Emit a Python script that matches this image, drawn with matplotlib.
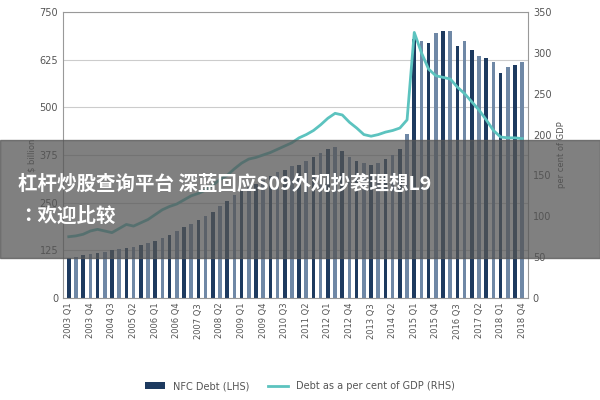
import numpy as np
import matplotlib.pyplot as plt

quarters = [f"{y} Q{q}" for y in range(2003, 2019) for q in range(1, 5)]
nfc_debt = [105, 108, 112, 115, 118, 120, 125, 128, 130, 135, 140, 145,
            150, 158, 165, 175, 185, 195, 205, 215, 225, 240, 255, 270,
            280, 290, 300, 310, 320, 330, 335, 345, 350, 360, 370, 380,
            390, 395, 385, 370, 360, 355, 350, 355, 365, 375, 390, 430,
            680, 675, 670, 695, 700, 700, 660, 675, 650, 635, 630, 620,
            590, 605, 610, 620]
debt_gdp = [75, 76, 78, 82, 84, 82, 80, 85, 90, 88, 92, 96,
            102, 108, 112, 115, 120, 125, 128, 132, 138, 145, 150, 158,
            165, 170, 172, 175, 178, 182, 186, 190, 196, 200, 205, 212,
            220, 226, 224, 215, 208, 200, 198, 200, 203, 205, 208, 218,
            325, 300, 280, 272, 270, 268, 258, 250, 240, 230, 218, 205,
            197, 196, 196, 195]
banner = "杠杆炒股查询平台 深蓝回应S09外观抄袭理想L9\n：欢迎比较"

fig = plt.figure(figsize=(6, 4), dpi=100)
ax = fig.add_axes([0.105, 0.255, 0.775, 0.715])
x = np.arange(len(quarters))
cols = ["#1d3a5f" if i % 2 == 0 else "#6f88a6" for i in x]
ax.bar(x, nfc_debt, width=0.5, color=cols, label="NFC Debt (LHS)", zorder=2)
ax.set_ylim(0, 750)
ax.set_yticks(np.arange(0, 751, 125))
ax.set_xlim(-0.8, len(x) - 0.2)
ax.set_xticks(x[::3])
ax.set_xticklabels(quarters[::3], rotation=90, fontsize=6, color="#555555")
ax.tick_params(axis="y", labelsize=7, colors="#555555", length=0)
ax.tick_params(axis="x", length=0)
ax.set_ylabel("$ billion", fontsize=6, color="#555555", labelpad=2)
ax.grid(axis="y", color="#cccccc", lw=0.8, zorder=0)
for s in ax.spines.values():
    s.set_color("#999999")

ax2 = ax.twinx()
ax2.plot(x, debt_gdp, color="#5cc3bf", lw=2, label="Debt as a per cent of GDP (RHS)")
ax2.set_ylim(0, 350)
ax2.set_yticks(np.arange(0, 351, 50))
ax2.tick_params(labelsize=7, colors="#555555", length=0)
ax2.set_ylabel("per cent of GDP", fontsize=6, color="#555555")
for s in ax2.spines.values():
    s.set_visible(False)

h1, l1 = ax.get_legend_handles_labels()
h2, l2 = ax2.get_legend_handles_labels()
fig.legend(h1 + h2, l1 + l2, loc="lower center", ncol=2, frameon=False,
           fontsize=7, bbox_to_anchor=(0.5, 0.0), labelcolor="#555555")

fig.patches.append(plt.Rectangle((0, 0.355), 1, 0.295, transform=fig.transFigure,
                                 color="#555555", alpha=0.75, zorder=5))
fig.text(0.03, 0.5, banner, color="white", fontsize=14, fontweight="bold",
         fontfamily=["Noto Sans CJK SC", "Noto Sans CJK JP", "Noto Sans CJK TC",
                     "Noto Sans CJK KR", "DejaVu Sans"],
         va="center", ha="left", zorder=6, linespacing=1.9)
fig.savefig("out.png")
